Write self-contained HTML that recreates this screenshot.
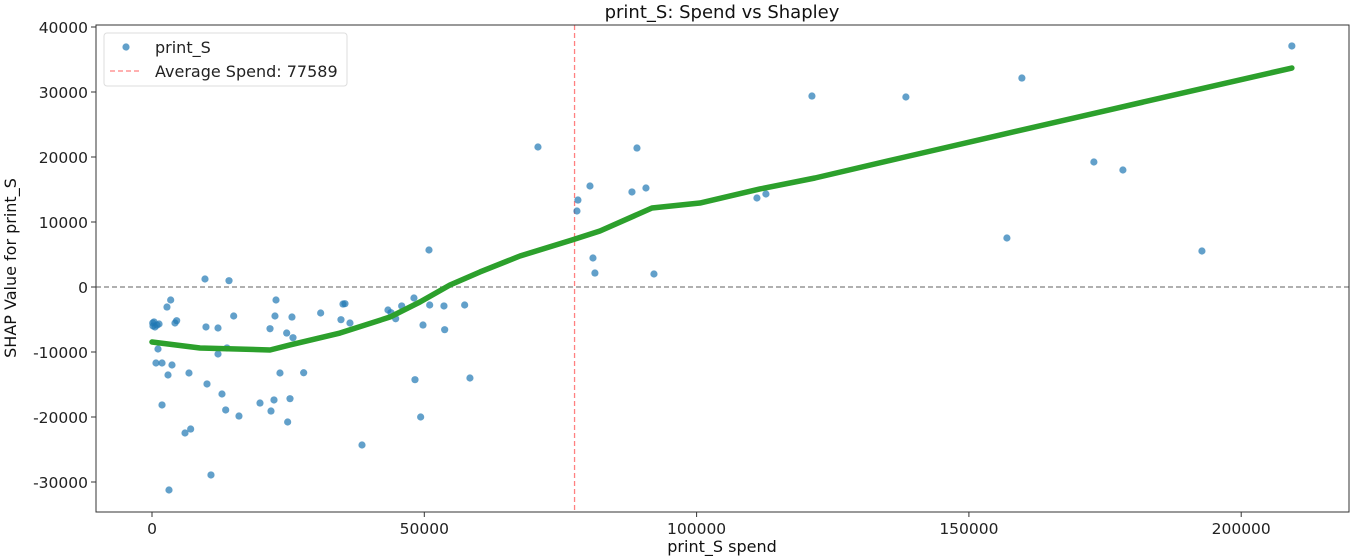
<!DOCTYPE html>
<html><head><meta charset="utf-8"><style>
body{margin:0;background:#fff;}
svg{display:block;font-family:"DejaVu Sans","Liberation Sans",sans-serif;}
</style></head><body>
<svg id="chart" width="1352" height="559"></svg>
<script>
const pointX=[130,1290,180,550,370,920,3430,2750,4530,4220,1100,730,1840,3670,2940,6790,1840,6060,7100,3120,10830,10100,9910,12120,12120,13770,15000,9730,14140,12850,13530,15970,19830,21850,22400,24910,25340,23500,27850,21670,22580,22770,25700,24730,25890,30970,34700,35070,35430,36350,38560,43330,43880,44740,45850,48100,49760,50990,48290,49330,53610,53740,57410,58380,50860,70870,78030,78210,80420,80970,81330,88130,89050,90700,92170,111080,112730,121180,138430,156980,159730,172950,178280,192790,209300];
const pointY=[-5540,-5690,-6000,-6150,-5380,-5850,-2000,-3080,-5180,-5540,-9540,-11690,-11690,-12000,-13540,-13230,-18150,-22460,-21850,-31230,-28920,-14920,-6150,-6310,-10310,-9380,-4460,1230,970,-16460,-18920,-19850,-17850,-19080,-17380,-20770,-17180,-13230,-13190,-6420,-4460,-2000,-4620,-7080,-7800,-4000,-5030,-2620,-2570,-5540,-24310,-3540,-3950,-4880,-2920,-1690,-5850,-2770,-14260,-20000,-2920,-6570,-2770,-14000,5690,21540,11690,13380,15540,4460,2150,14620,21380,15230,2000,13690,14310,29380,29230,7540,32150,19230,18000,5540,37080];
const trendX=[0,8810,21670,25340,34520,43700,49200,54710,60220,67570,77110,82250,91800,100610,111630,121730,138250,155690,174050,192410,209300];
const trendY=[-8460,-9380,-9690,-8920,-7080,-4620,-2310,310,2310,4770,7230,8620,12150,12920,15080,16770,20000,23380,26920,30460,33690];
const xTicks=[0,50000,100000,150000,200000];
const yTicks=[-30000,-20000,-10000,0,10000,20000,30000,40000];
const avgSpend=77589;

const L=96,R=1349,T=25,B=512;
const x=v=>152+v*0.005446;
const y=v=>287-v*0.0065;
const svg=document.getElementById('chart');
const NS='http://www.w3.org/2000/svg';
function mk(tag,attrs,parent){const e=document.createElementNS(NS,tag);for(const k in attrs)e.setAttribute(k,attrs[k]);(parent||svg).appendChild(e);return e;}

const zero=mk('line',{x1:L,x2:R,y1:y(0),y2:y(0),stroke:'#808080','stroke-width':1.3,'stroke-dasharray':'5,3'});


const avg=mk('line',{x1:x(avgSpend),x2:x(avgSpend),y1:T,y2:B,stroke:'#ff8080','stroke-width':1.3,'stroke-dasharray':'5,3'});



const pts=mk('g',{});


for(let i=0;i<pointX.length;i++){
  const c=mk('circle',{cx:x(pointX[i]),cy:y(pointY[i]),r:3.6,fill:'#1f77b4','fill-opacity':0.7},pts);
  
  
}
const tl=mk('polyline',{points:trendX.map((v,i)=>x(v)+','+y(trendY[i])).join(' '),fill:'none',stroke:'#2ca02c','stroke-width':5.5,'stroke-linejoin':'round','stroke-linecap':'round'});



const frame=mk('rect',{x:L,y:T,width:R-L,height:B-T,fill:'none',stroke:'#333','stroke-width':1});



xTicks.forEach(v=>{
  const t=mk('line',{x1:x(v),x2:x(v),y1:B,y2:B+5,stroke:'#333'});
  
  
  const l=mk('text',{x:x(v),y:B+22,'text-anchor':'middle','font-size':15.5,fill:'#222'});
  l.textContent=v;
  
  
});
yTicks.forEach(v=>{
  const t=mk('line',{x1:L-5,x2:L,y1:y(v),y2:y(v),stroke:'#333'});
  
  
  const l=mk('text',{x:L-8,y:y(v)+6,'text-anchor':'end','font-size':15.5,fill:'#222'});
  l.textContent=v;
  
  
});
</script>
<svg style="position:absolute;left:0;top:0" width="1352" height="559">
<text x="722" y="18" text-anchor="middle" font-size="18" fill="#111" font-family="DejaVu Sans, sans-serif">print_S: Spend vs Shapley</text>
<text x="722" y="552" text-anchor="middle" font-size="16" fill="#111" font-family="DejaVu Sans, sans-serif">print_S spend</text>
<text x="0" y="0" transform="translate(16,268) rotate(-90)" text-anchor="middle" font-size="16" fill="#111" font-family="DejaVu Sans, sans-serif">SHAP Value for print_S</text>
<g>
<rect x="104" y="33" width="243" height="53" rx="3" fill="#fff" fill-opacity="0.85" stroke="#ddd"/>
<circle cx="126" cy="47" r="3.6" fill="#1f77b4" fill-opacity="0.7"/>
<text x="155" y="53" font-size="16" fill="#222" font-family="DejaVu Sans, sans-serif">print_S</text>
<line x1="110" x2="142" y1="71" y2="71" stroke="#ff8080" stroke-width="1.3" stroke-dasharray="5,3"/>
<text x="155" y="77" font-size="16" fill="#222" font-family="DejaVu Sans, sans-serif">Average Spend: 77589</text>
</g>
</svg>
</body></html>
